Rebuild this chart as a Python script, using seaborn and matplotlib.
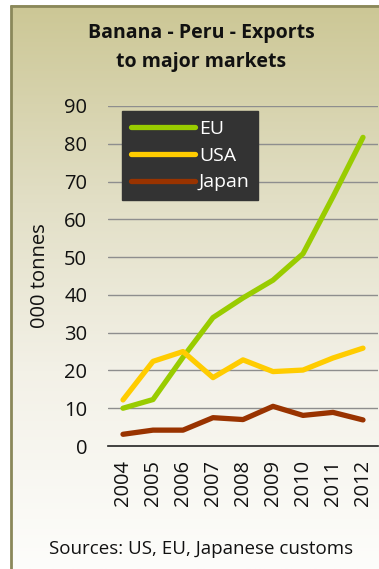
import numpy as np
import pandas as pd
import matplotlib
matplotlib.use("Agg")
import matplotlib.pyplot as plt
from matplotlib.colors import LinearSegmentedColormap
from matplotlib.lines import Line2D
import seaborn as sns

years = ["2004", "2005", "2006", "2007", "2008", "2009", "2010", "2011", "2012"]
eu = [10.0, 12.3, 23.5, 34.0, 39.2, 43.9, 50.9, 66.0, 81.7]
usa = [12.2, 22.4, 25.0, 18.1, 22.8, 19.7, 20.1, 23.3, 25.9]
japan = [3.1, 4.2, 4.2, 7.5, 7.0, 10.5, 8.1, 8.9, 6.9]
series_names = ["EU", "USA", "Japan"]
series_colors = ["#99cc00", "#ffcc00", "#993300"]

df = pd.DataFrame({
    "idx": list(range(len(years))) * 3,
    "value": eu + usa + japan,
    "market": [n for n in series_names for _ in years],
})

sns.set_theme(style="white")
plt.rcParams["font.family"] = ["Open Sans", "DejaVu Sans"]

W, H = 379, 569
fig = plt.figure(figsize=(W / 100, H / 100), dpi=100)
fig.patch.set_facecolor("white")

# background panel with vertical khaki-to-white gradient
bg = fig.add_axes([0, 0, 1, 1], zorder=0)
bg.set_xlim(0, W)
bg.set_ylim(H, 0)
bg.axis("off")
grad = LinearSegmentedColormap.from_list(
    "khaki", [(0.0, "#ccc795"), (0.35, "#e2dfc6"), (0.65, "#f3f1e7"), (1.0, "#fdfdfb")])
g = np.linspace(0, 1, 256).reshape(-1, 1)
bg.imshow(g, cmap=grad, extent=[11, W, H, 5], aspect="auto", zorder=0)
bg.plot([11, 11], [5, H], color="#8a885a", lw=2, solid_capstyle="butt", zorder=1)
bg.plot([10, W], [5.5, 5.5], color="#8a885a", lw=2, solid_capstyle="butt", zorder=1)

ax = fig.add_axes([108 / W, 1 - 446 / H, 270 / W, 340 / H], zorder=1)
ax.patch.set_alpha(0)

sns.lineplot(data=df, x="idx", y="value", hue="market", palette=series_colors,
             hue_order=series_names, lw=3.8, ax=ax, legend=False,
             solid_capstyle="round", solid_joinstyle="round")

ax.set_xlim(-0.5, len(years) - 0.5)
ax.set_ylim(0, 90)
ax.set_yticks(range(0, 91, 10))
ax.set_xticks(range(len(years)))
ax.set_xticklabels(years, rotation=90, fontsize=14.5, color="#111111")
ax.set_xticks(np.arange(-0.5, len(years), 1.0), minor=True)
ax.tick_params(axis="x", which="major", length=0, pad=10)
ax.tick_params(axis="x", which="minor", length=5, width=1, color="#555555", direction="out")
ax.tick_params(axis="y", length=0, pad=15, labelsize=14.5, labelcolor="#111111")
for v in range(10, 91, 10):
    ax.axhline(v, color="#8e8e8e", lw=1, zorder=0.5)

for s in ["top", "right", "left"]:
    ax.spines[s].set_visible(False)
ax.spines["bottom"].set_color("#222222")
ax.spines["bottom"].set_linewidth(1.2)
ax.set_xlabel("")
ax.set_ylabel("000 tonnes", fontsize=14.5, color="#111111", labelpad=10)

handles = [Line2D([0], [0], color=c, lw=3.8, solid_capstyle="round") for c in series_colors]
leg = ax.legend(handles, series_names, loc="upper left", bbox_to_anchor=(0.052, 0.985),
                frameon=True, fancybox=False, fontsize=14, handlelength=3.3,
                handletextpad=0.2, labelspacing=0.45, borderpad=0.45,
                borderaxespad=0)
leg.get_frame().set_facecolor("#333333")
leg.get_frame().set_edgecolor("#333333")
leg.get_frame().set_alpha(1)
for t in leg.get_texts():
    t.set_color("white")

fig.text(0.5 + 12 / W, 1 - 33 / H, "Banana - Peru - Exports", ha="center", va="center",
         fontsize=14, fontweight="bold", color="#111111")
fig.text(0.5 + 12 / W, 1 - 62 / H, "to major markets", ha="center", va="center",
         fontsize=14, fontweight="bold", color="#111111")
fig.text(201 / W, 1 - 549 / H, "Sources: US, EU, Japanese customs", ha="center", va="center",
         fontsize=13.5, color="#111111")

fig.savefig("out.png", dpi=100, facecolor="white")
